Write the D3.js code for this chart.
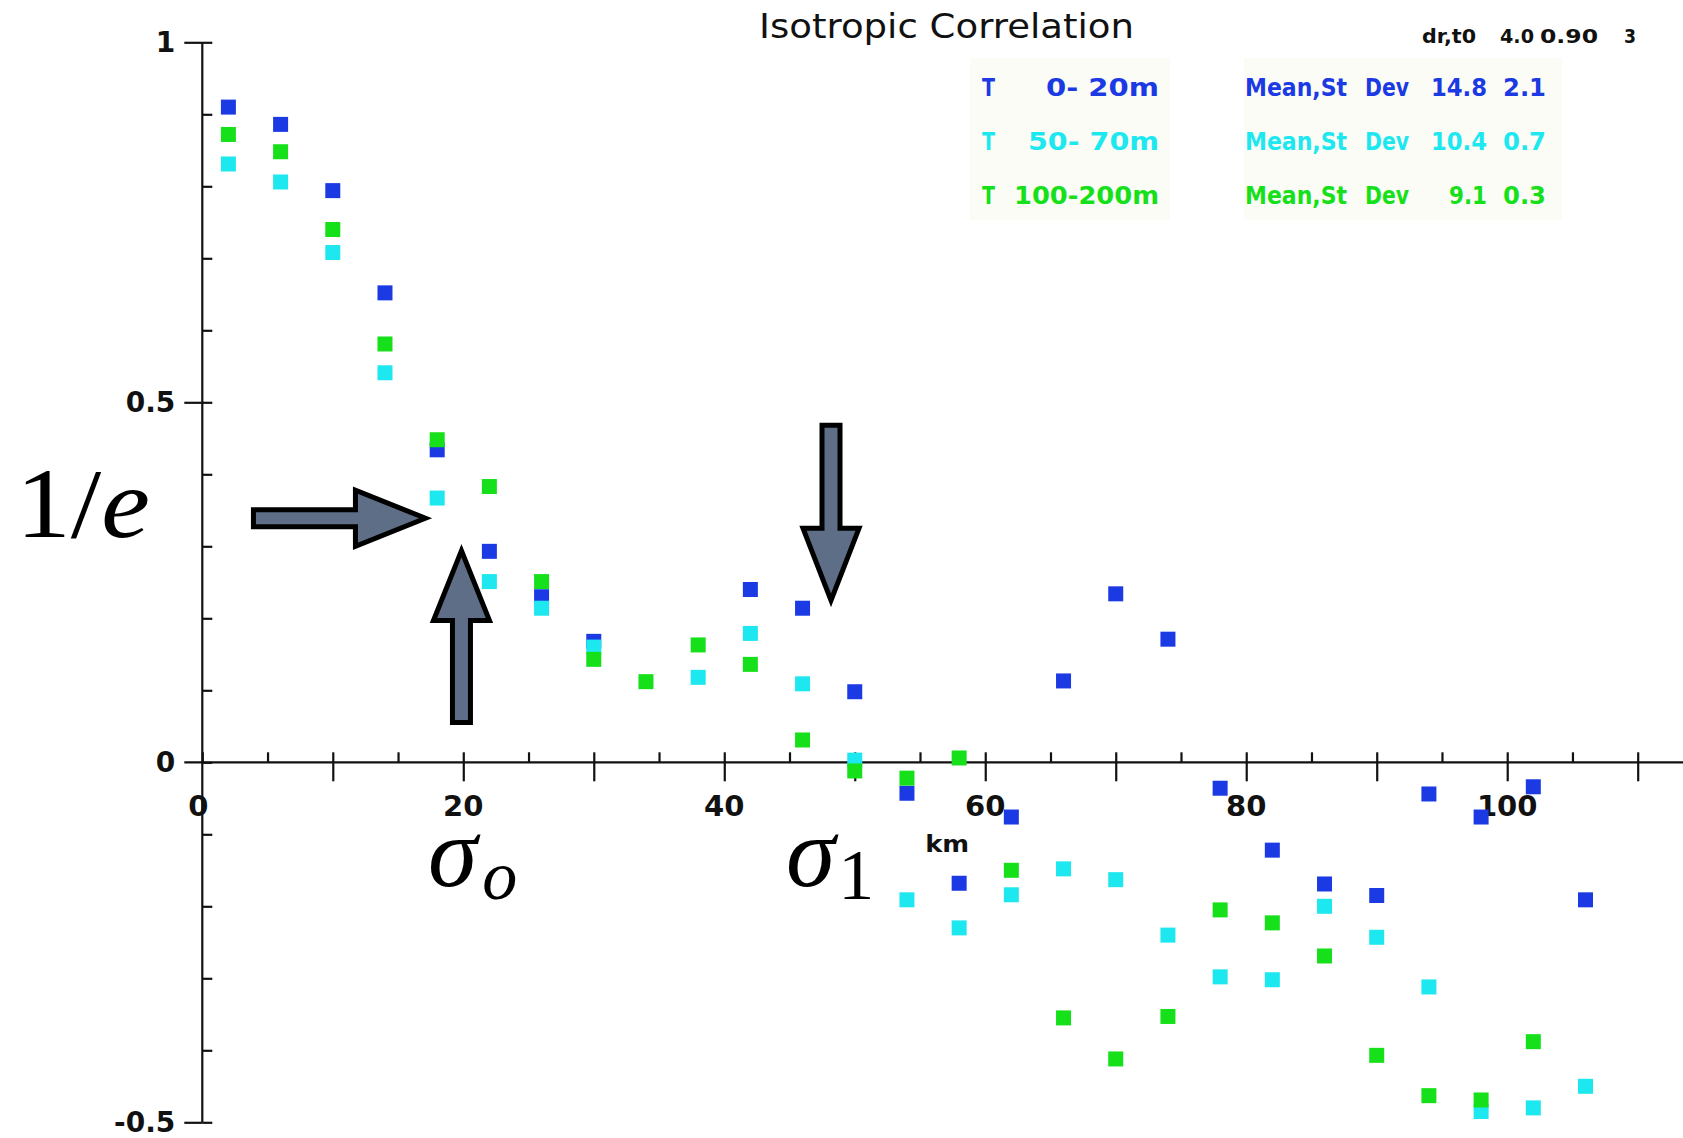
<!DOCTYPE html>
<html>
<head>
<meta charset="utf-8">
<script src="https://cdn.jsdelivr.net/npm/d3@7"></script>
<style>
  html, body { margin: 0; padding: 0; background: #ffffff; }
  svg { display: block; }
  .pix { font-family: "DejaVu Sans", "Liberation Sans", sans-serif; }
  .math { font-family: "Liberation Serif", "DejaVu Serif", serif; }
</style>
</head>
<body>
<svg id="chart" width="1683" height="1138"></svg>
<script>
// Separation distance (km) of each correlation bin
const distanceKm = [2, 6, 10, 14, 18, 22, 26, 30, 34, 38, 42, 46, 50, 54,
                    58, 62, 66, 70, 74, 78, 82, 86, 90, 94, 98, 102, 106];

// Isotropic correlation, temperature 0-20 m
const corrShallow = [0.910, 0.886, 0.794, 0.652, 0.434, 0.293, 0.230, 0.168, null, null,
                     0.240, 0.214, 0.098, -0.043, -0.168, -0.076, 0.113, 0.234, 0.171,
                     -0.036, -0.122, -0.169, -0.185, -0.044, -0.076, -0.034, -0.191];

// Isotropic correlation, temperature 50-70 m
const corrMid = [0.831, 0.806, 0.708, 0.541, 0.367, 0.251, 0.214, 0.160, null, 0.118,
                 0.179, 0.109, 0.003, -0.191, -0.230, -0.184, -0.148, -0.163, -0.240,
                 -0.298, -0.302, -0.200, -0.243, -0.312, -0.485, -0.480, -0.450];

// Isotropic correlation, temperature 100-200 m
const corrDeep = [0.872, 0.848, 0.740, 0.581, 0.448, 0.383, 0.251, 0.143, 0.112, 0.163,
                  0.136, 0.031, -0.012, -0.022, 0.006, -0.150, -0.355, -0.412, -0.353,
                  -0.205, -0.223, -0.269, -0.407, -0.463, -0.469, -0.388, null];

// Legend entries: depth ranges with mean and standard deviation of the scale
const depthLabels = ["0- 20m", "50- 70m", "100-200m"];
const scaleMeans = ["14.8", "10.4", "9.1"];
const scaleSds = ["2.1", "0.7", "0.3"];
const seriesColors = ["#1b3ae4", "#1ee8ef", "#16e01a"];

// Run parameters printed in the corner
const paramLabels = ["dr,t0", "4.0", "0.90", "3"];

// Axis ticks
const xLabelTicks = [0, 20, 40, 60, 80, 100];
const yLabelTicks = [1, 0.5, 0, -0.5];
const yLabelText = ["1", "0.5", "0", "-0.5"];

const svg = d3.select("#chart");

const x = d3.scaleLinear().domain([0, 110]).range([202.3, 1637.7]);
const y = d3.scaleLinear().domain([-0.5, 1]).range([1122.3, 42.3]);

const ink = "#111";

// Light backing panels behind the legend text
const legendBack = svg.append("g");
legendBack.append("rect").attr("x", 970).attr("y", 58).attr("width", 200).attr("height", 162).attr("fill", "#fcfcf7");
legendBack.append("rect").attr("x", 1244).attr("y", 58).attr("width", 318).attr("height", 162).attr("fill", "#fcfcf7");

// ---- Axes ----
const axes = svg.append("g").attr("stroke", ink).attr("stroke-width", 2.2);

// x axis line (runs past the y axis on the left and to the right edge)
axes.append("line")
  .attr("x1", x(0) - 18).attr("x2", 1683)
  .attr("y1", y(0)).attr("y2", y(0));

// y axis line
axes.append("line")
  .attr("x1", x(0)).attr("x2", x(0))
  .attr("y1", y(1)).attr("y2", y(-0.5));

// x ticks: every 5 km a short tick above, every 10 km a longer tick through
const xMinor = d3.axisTop(x).tickValues(d3.range(0, 111, 5)).tickSize(10).tickFormat("");
const xMajor = d3.axisBottom(x).tickValues(d3.range(10, 111, 10)).tickSize(19).tickFormat("");
const gxMinor = svg.append("g").attr("transform", `translate(0,${y(0)})`).call(xMinor);
const gxMajor = svg.append("g").attr("transform", `translate(0,${y(0)})`).call(xMajor);

// y ticks: minor ticks every 0.1 to the right, labelled ticks to the left
const yMinor = d3.axisRight(y).tickValues(d3.range(-5, 11, 1).map(d => d / 10)).tickSize(10).tickFormat("");
const yMajor = d3.axisLeft(y).tickValues([1, 0.5, -0.5]).tickSize(18).tickFormat("");
const gyMinor = svg.append("g").attr("transform", `translate(${x(0)},0)`).call(yMinor);
const gyMajor = svg.append("g").attr("transform", `translate(${x(0)},0)`).call(yMajor);

[gxMinor, gxMajor, gyMinor, gyMajor].forEach(g => {
  g.select(".domain").remove();
  g.selectAll(".tick line").attr("stroke", ink).attr("stroke-width", 2.2);
});

// tick labels
svg.append("g").selectAll("text").data(xLabelTicks).join("text")
  .attr("class", "pix")
  .attr("x", d => x(d) - (d === 0 ? 4 : 0))
  .attr("y", y(0) + 54)
  .attr("text-anchor", "middle")
  .attr("font-size", 29)
  .attr("font-weight", "bold")
  .attr("fill", ink)
  .text(d => d);

svg.append("g").selectAll("text").data(yLabelTicks).join("text")
  .attr("class", "pix")
  .attr("x", x(0) - 27)
  .attr("y", d => y(d) + 10)
  .attr("text-anchor", "end")
  .attr("font-size", 28)
  .attr("font-weight", "bold")
  .attr("fill", ink)
  .text((d, i) => yLabelText[i]);

// axis unit
svg.append("text").attr("class", "pix")
  .attr("x", x(55.4)).attr("y", y(0) + 90)
  .attr("font-size", 23).attr("font-weight", "bold").attr("fill", ink)
  .attr("textLength", 44).attr("lengthAdjust", "spacingAndGlyphs")
  .text("km");

// ---- Title and run parameters ----
svg.append("text").attr("class", "pix")
  .attr("x", 759).attr("y", 38)
  .attr("font-size", 33)
  .attr("textLength", 375).attr("lengthAdjust", "spacingAndGlyphs")
  .attr("fill", ink)
  .text("Isotropic  Correlation");

const paramX = [1422, 1500, 1540, 1624];
const paramW = [54, 34, 58, 12];
svg.append("g").selectAll("text").data(paramLabels).join("text")
  .attr("class", "pix")
  .attr("x", (d, i) => paramX[i]).attr("y", 43)
  .attr("font-size", 20).attr("font-weight", "bold")
  .attr("textLength", (d, i) => paramW[i]).attr("lengthAdjust", "spacingAndGlyphs")
  .attr("fill", ink)
  .text(d => d);

// ---- Legend ----
const rangeW = [113, 131, 145];
const meanW = [56, 56, 38];
const legend = svg.append("g").attr("class", "pix").attr("font-size", 25).attr("font-weight", "bold");
depthLabels.forEach((lab, i) => {
  const by = 96 + i * 54;
  const c = seriesColors[i];
  const put = (tx, w, s) => legend.append("text").attr("x", tx).attr("y", by).attr("fill", c)
    .attr("textLength", w).attr("lengthAdjust", "spacingAndGlyphs").text(s);
  put(982, 13, "T");
  put(1159 - rangeW[i], rangeW[i], lab);
  put(1245, 102, "Mean,St");
  put(1365, 44, "Dev");
  put(1487 - meanW[i], meanW[i], scaleMeans[i]);
  put(1503, 43, scaleSds[i]);
});

// ---- Data squares (drawn shallow, mid, deep so the deep layer sits on top) ----
const series = [corrShallow, corrMid, corrDeep];
const sq = 15;
series.forEach((vals, i) => {
  const pts = distanceKm.map((d, k) => ({ d, v: vals[k] })).filter(p => p.v !== null);
  svg.append("g").selectAll("rect").data(pts).join("rect")
    .attr("x", p => x(p.d) - sq / 2)
    .attr("y", p => y(p.v) - sq / 2)
    .attr("width", sq).attr("height", sq)
    .attr("fill", seriesColors[i]);
});

// ---- Annotation arrows ----
const arrowFill = "#5d6e86";
function arrow(tipX, tipY, dir, len, headLen, headHalf, shaftHalf) {
  // dir: unit vector pointing from tail to tip
  const [ux, uy] = dir;
  const px = -uy, py = ux;
  const bx = tipX - ux * headLen, by = tipY - uy * headLen;
  const tx = tipX - ux * len, ty = tipY - uy * len;
  const pts = [
    [tipX, tipY],
    [bx + px * headHalf, by + py * headHalf],
    [bx + px * shaftHalf, by + py * shaftHalf],
    [tx + px * shaftHalf, ty + py * shaftHalf],
    [tx - px * shaftHalf, ty - py * shaftHalf],
    [bx - px * shaftHalf, by - py * shaftHalf],
    [bx - px * headHalf, by - py * headHalf]
  ];
  svg.append("path")
    .attr("d", d3.line()(pts) + "Z")
    .attr("fill", arrowFill)
    .attr("stroke", "#000")
    .attr("stroke-width", 5)
    .attr("stroke-linejoin", "miter");
}
// pointing at the 1/e crossing from the left
arrow(x(17.1), y(0.339), [1, 0], 172, 70, 28, 8.5);
// pointing up at sigma_o
arrow(x(19.86), y(0.294), [0, -1], 172, 70, 28, 9);
// pointing down at sigma_1
arrow(x(48.18), y(0.225), [0, 1], 175, 72, 28, 9);

// ---- Math labels ----
const oneOverE = svg.append("text").attr("class", "math")
  .attr("x", 16).attr("y", 537).attr("font-size", 100).attr("fill", "#000")
  .attr("textLength", 134).attr("lengthAdjust", "spacingAndGlyphs");
oneOverE.append("tspan").text("1/");
oneOverE.append("tspan").attr("font-style", "italic").text("e");

const sig0 = svg.append("text").attr("class", "math")
  .attr("x", 428).attr("y", 886).attr("font-size", 100).attr("fill", "#000");
sig0.append("tspan").attr("font-style", "italic").text("σ");
sig0.append("tspan").attr("font-style", "italic").attr("font-size", 70).attr("dx", 5).attr("dy", 13).text("o");

const sig1 = svg.append("text").attr("class", "math")
  .attr("x", 786).attr("y", 886).attr("font-size", 100).attr("fill", "#000");
sig1.append("tspan").attr("font-style", "italic").text("σ");
sig1.append("tspan").attr("font-size", 72).attr("dx", 3).attr("dy", 13).text("1");
</script>
</body>
</html>
